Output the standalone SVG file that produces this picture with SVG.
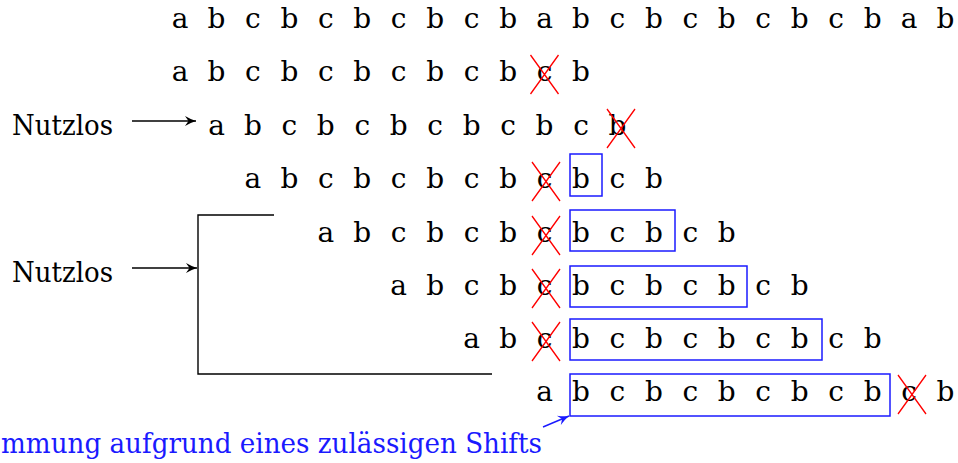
<svg xmlns="http://www.w3.org/2000/svg" xmlns:xlink="http://www.w3.org/1999/xlink" width="958" height="463" viewBox="0 0 958 463">
<style>
text{font-family:'DejaVu Serif','Liberation Serif','Times New Roman',serif;font-size:28px}
.t{fill:#000;text-anchor:middle}
.lbl{fill:#000}
.blue{fill:#1a1aff}
.box{fill:none;stroke:#1a1aff;stroke-width:1.5}
.ln{fill:none;stroke:#000;stroke-width:1.4}
.bln{fill:none;stroke:#1a1aff;stroke-width:1.4}
.xr{fill:none;stroke:#ff0000;stroke-width:1.3}
</style>
<defs>
<path id="x" class="xr" d="M-14,-26 L14,13 M14,-26 L-14,13"/>
<marker id="ah" markerUnits="userSpaceOnUse" markerWidth="14" markerHeight="12" refX="0" refY="0" viewBox="-12 -6 14 12" orient="auto">
<path d="M0,0 Q-5,-1.5 -11,-5 L-7.5,0 L-11,5 Q-5,1.5 0,0 Z" fill="#000"/>
</marker>
<marker id="ahb" markerUnits="userSpaceOnUse" markerWidth="14" markerHeight="12" refX="0" refY="0" viewBox="-12 -6 14 12" orient="auto">
<path d="M0,0 Q-5,-1.5 -11,-5 L-7.5,0 L-11,5 Q-5,1.5 0,0 Z" fill="#1a1aff"/>
</marker>
</defs>
<g id="row1">
<text class="t" x="180 216.5 252.9 289.4 325.8 362.3 398.7 435.2 471.6 508.1 544.5 581 617.4 653.9 690.3 726.8 763.2 799.7 836.1 872.6 909 945.5" y="28">abcbcbcbcbabcbcbcbcbab</text>
</g>
<g id="row2">
<text class="t" x="180 216.5 252.9 289.4 325.8 362.3 398.7 435.2 471.6 508.1 544.5 581" y="81">abcbcbcbcbcb</text>
<use xlink:href="#x" x="544.5" y="81"/>
</g>
<g id="row3">
<text class="t" x="216.5 252.9 289.4 325.8 362.3 398.7 435.2 471.6 508.1 544.5 581 617.4" y="135">abcbcbcbcbcb</text>
<use xlink:href="#x" x="621" y="135"/>
</g>
<g id="row4">
<text class="t" x="252.9 289.4 325.8 362.3 398.7 435.2 471.6 508.1 544.5 581 617.4 653.9" y="188">abcbcbcbcbcb</text>
<use xlink:href="#x" x="546" y="188"/>
<rect class="box" x="570" y="154" width="32" height="42"/>
</g>
<g id="row5">
<text class="t" x="325.8 362.3 398.7 435.2 471.6 508.1 544.5 581 617.4 653.9 690.3 726.8" y="242">abcbcbcbcbcb</text>
<use xlink:href="#x" x="546" y="242"/>
<rect class="box" x="570" y="210" width="105" height="41"/>
</g>
<g id="row6">
<text class="t" x="398.7 435.2 471.6 508.1 544.5 581 617.4 653.9 690.3 726.8 763.2 799.7" y="295">abcbcbcbcbcb</text>
<use xlink:href="#x" x="546" y="295"/>
<rect class="box" x="570" y="266" width="177" height="41"/>
</g>
<g id="row7">
<text class="t" x="471.6 508.1 544.5 581 617.4 653.9 690.3 726.8 763.2 799.7 836.1 872.6" y="348">abcbcbcbcbcb</text>
<use xlink:href="#x" x="546" y="348"/>
<rect class="box" x="570" y="319" width="252" height="41"/>
</g>
<g id="row8">
<text class="t" x="544.5 581 617.4 653.9 690.3 726.8 763.2 799.7 836.1 872.6 909 945.5" y="401">abcbcbcbcbcb</text>
<use xlink:href="#x" x="912" y="401"/>
<rect class="box" x="570" y="374" width="320" height="42"/>
</g>
<g id="label-nutzlos-1">
<text class="lbl" x="12" y="135" textLength="101" lengthAdjust="spacingAndGlyphs">Nutzlos</text>
</g>
<g id="label-nutzlos-2">
<text class="lbl" x="12" y="282" textLength="101" lengthAdjust="spacingAndGlyphs">Nutzlos</text>
</g>
<g id="label-shift">
<text class="blue" x="1" y="453" textLength="541" lengthAdjust="spacingAndGlyphs">mmung aufgrund eines zulässigen Shifts</text>
</g>
<g id="connectors">
<line class="ln" x1="132" y1="121" x2="196" y2="121" marker-end="url(#ah)"/>
<line class="ln" x1="132" y1="268" x2="197" y2="268" marker-end="url(#ah)"/>
<polyline class="ln" points="274,215 198,215 198,374 492,374"/>
<line class="bln" x1="543" y1="427" x2="569" y2="416" marker-end="url(#ahb)"/>
</g>
</svg>
